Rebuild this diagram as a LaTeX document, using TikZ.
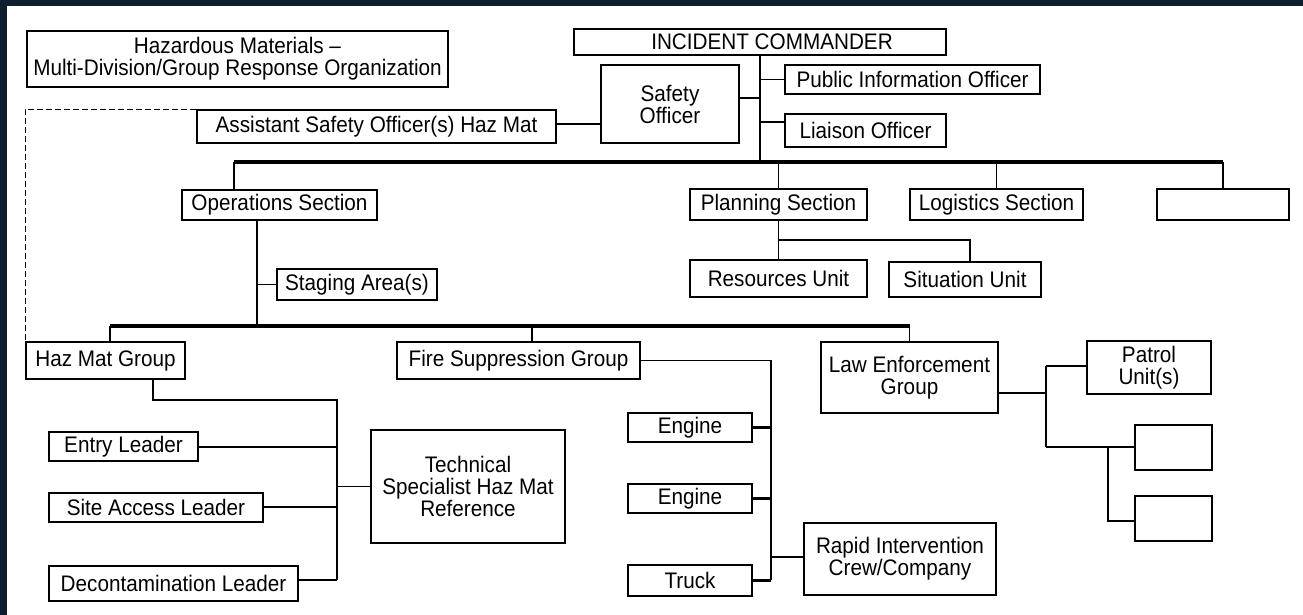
\documentclass[tikz,border=0pt]{standalone}
\usepackage{fontspec}
\setmainfont[FakeStretch=0.92]{Liberation Sans}
\begin{document}
\begin{tikzpicture}[x=1pt,y=-1pt,
  box/.style={draw=black,line width=1.7pt,fill=white,inner sep=0pt,align=center,
    font=\fontsize{22.5}{22}\selectfont},
  heavy/.style={line width=2.4pt},
  wire/.style={draw=black,line width=1.6pt},
  bus/.style={draw=black,line width=3.2pt},
  stub/.style={draw=black,line width=3pt},
  link/.style={draw=black,line width=1.2pt,dash pattern=on 6pt off 3pt}]
% page and dark frame
\fill[white] (0,0) rectangle (1303,615);
\useasboundingbox (0,0) rectangle (1303,615);
\fill[fill={rgb,255:red,14;green,30;blue,44}] (0,0) rectangle (1303,6);
\fill[fill={rgb,255:red,14;green,30;blue,44}] (0,0) rectangle (7,615);

% command staff
\node[box,minimum width=421,minimum height=56] (title) at (237.5,59)
  {Hazardous Materials --\\Multi-Division/Group Response Organization};
\node[box,heavy,minimum width=372,minimum height=26] (ic) at (760,42) {\hspace*{24pt}INCIDENT COMMANDER};
\node[box,minimum width=138,minimum height=78] (safety) at (670,104) {Safety\\Officer};
\node[box,minimum width=255,minimum height=29] (pio) at (912.5,79.5) {Public Information Officer};
\node[box,minimum width=161,minimum height=33] (liaison) at (865.5,130.5) {Liaison Officer};
\node[box,minimum width=359,minimum height=33] (asst) at (376.5,126.5) {Assistant Safety Officer(s) Haz Mat};

% general staff
\node[box,heavy,minimum width=195,minimum height=30] (ops) at (279.5,205) {Operations Section};
\node[box,heavy,minimum width=177,minimum height=31] (plan) at (778.5,204.5) {Planning Section};
\node[box,heavy,minimum width=173,minimum height=31] (logi) at (996.5,204.5) {Logistics Section};
\node[box,heavy,minimum width=132,minimum height=31] (blank) at (1223,204.5) {};
\node[box,heavy,minimum width=177,minimum height=37] (res) at (778.5,278.5) {Resources Unit};
\node[box,minimum width=152,minimum height=35] (sit) at (965,279.5) {Situation Unit};
\node[box,minimum width=160,minimum height=31] (stage) at (357,284.5) {Staging Area(s)};

% groups
\node[box,minimum width=159,minimum height=37] (hazmat) at (105.5,360.5) {Haz Mat Group};
\node[box,minimum width=243,minimum height=37] (fire) at (518.5,360.5) {Fire Suppression Group};
\node[box,heavy,minimum width=177,minimum height=71] (law) at (909.5,377.5) {Law Enforcement\\Group};

% haz mat group resources
\node[box,minimum width=149,minimum height=29] (entry) at (123.5,446.5) {Entry Leader};
\node[box,minimum width=214,minimum height=29] (site) at (156,507.5) {Site Access Leader};
\node[box,heavy,minimum width=249,minimum height=35] (decon) at (173.5,583.5) {Decontamination Leader};
\node[box,minimum width=194,minimum height=113] (tech) at (468,486.5) {Technical\\Specialist Haz Mat\\Reference};

% fire suppression resources
\node[box,heavy,minimum width=124,minimum height=29] (eng1) at (690,427.5) {Engine};
\node[box,heavy,minimum width=124,minimum height=29] (eng2) at (690,498.5) {Engine};
\node[box,heavy,minimum width=124,minimum height=31] (truck) at (690,580.5) {Truck};
\node[box,heavy,minimum width=192,minimum height=72] (ric) at (900,559) {Rapid Intervention\\Crew/Company};

% law enforcement resources
\node[box,minimum width=124,minimum height=53] (patrol) at (1149,367.5) {Patrol\\Unit(s)};
\node[box,minimum width=77,minimum height=45] (le1) at (1173.5,447.5) {};
\node[box,minimum width=77,minimum height=45] (le2) at (1173.5,518.5) {};

% junction points
\coordinate (ictrunk) at (760,162);
\coordinate (opsbus) at (257,326);
\coordinate (hzbend) at (337,400);
\coordinate (hzend) at (337,580);
\coordinate (fsend) at (771,580);
\coordinate (planbr) at (778.5,240);
\coordinate (lebr) at (1046,393);
\coordinate (lebr2) at (1108,447);

% command staff connectors
\draw[wire] (ic.south) -- (ictrunk);
\draw[wire] (pio.west) -- (pio.west -| ic.south);
\draw[wire] (liaison.west |- 0,122) -- (ic.south |- 0,122);
\draw[wire] (safety.east |- 0,98) -- (ic.south |- 0,98);
\draw[wire] (asst.east |- 0,124) -- (safety.west |- 0,124);
\draw[link] (asst.north west) -| (hazmat.north west);

% section bus
\draw[bus] (234,162) -- (blank.north |- 0,162);
\draw[wire] (234,162) -- (234,0 |- ops.north);
\draw[wire] (plan.north |- 0,162) -- (plan.north);
\draw[wire] (logi.north |- 0,162) -- (logi.north);
\draw[wire] (blank.north |- 0,162) -- (blank.north);

% planning units
\draw[wire] (plan.south) -- (res.north);
\draw[wire] (planbr) -| (970,0 |- sit.north);

% operations branch
\draw[wire] (257,0 |- ops.south) -- (opsbus);
\draw[wire] (257,0 |- stage.west) -- (stage.west);
\draw[bus] (110,326) -- (law.north |- opsbus);
\draw[wire] (110,326) -- (110,0 |- hazmat.north);
\draw[wire] (532,326) -- (532,0 |- fire.north);
\draw[wire] (law.north |- opsbus) -- (law.north);

% haz mat group
\draw[wire] (153,0 |- hazmat.south) |- (hzbend) -- (hzend);
\draw[wire] (entry.east |- 0,447) -- (hzbend |- 0,447);
\draw[wire] (site.east |- 0,507) -- (hzbend |- 0,507);
\draw[wire] (decon.east |- hzend) -- (hzend);
\draw[wire] (hzbend |- tech.west) -- (tech.west);

% fire suppression group
\draw[wire] (fire.east) -| (fsend);
\draw[stub] (eng1.east) -- (fsend |- eng1.east);
\draw[stub] (eng2.east) -- (fsend |- eng2.east);
\draw[stub] (truck.east |- fsend) -- (fsend);
\draw[wire] (fsend |- 0,557) -- (ric.west |- 0,557);

% law enforcement group
\draw[wire] (law.east |- lebr) -- (lebr);
\draw[wire] (lebr |- 0,366) -- (lebr |- lebr2);
\draw[wire] (lebr |- 0,366) -- (patrol.west |- 0,366);
\draw[wire] (lebr |- lebr2) -- (le1.west |- lebr2);
\draw[wire] (lebr2) |- (le2.west |- 0,521);
\end{tikzpicture}
\end{document}
